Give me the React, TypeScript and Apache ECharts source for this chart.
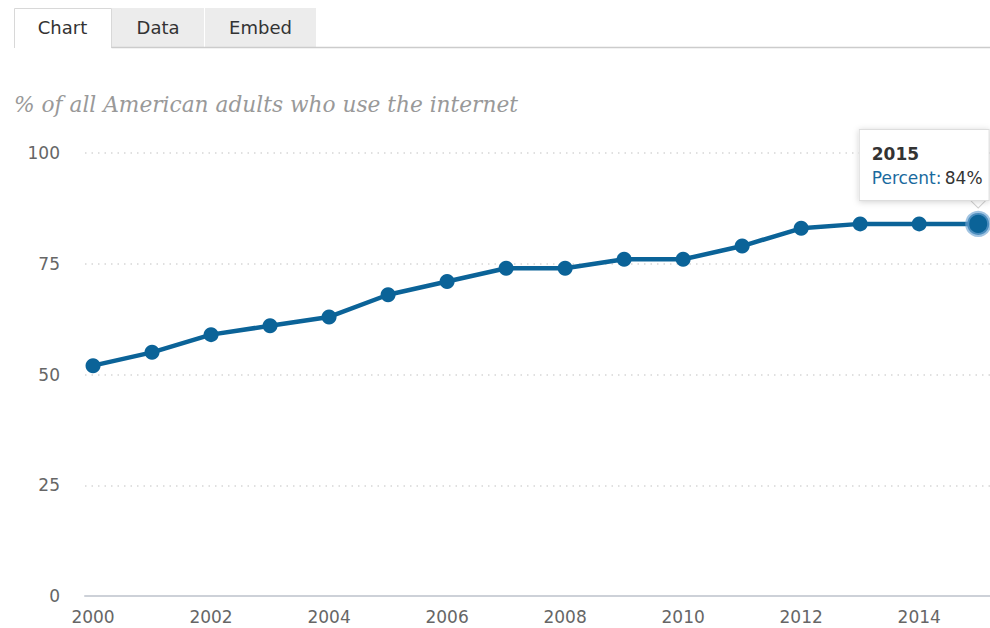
import React, { useEffect, useRef } from "react";
import * as echarts from "echarts";

const years = [2000, 2001, 2002, 2003, 2004, 2005, 2006, 2007, 2008, 2009, 2010, 2011, 2012, 2013, 2014, 2015];
const percent = [52, 55, 59, 61, 63, 68, 71, 74, 74, 76, 76, 79, 83, 84, 84, 84];
const xTickLabels = [2000, 2002, 2004, 2006, 2008, 2010, 2012, 2014];
const tabs = ["Chart", "Data", "Embed"];
const subtitle = "% of all American adults who use the internet";
const highlightIndex = 15;

const BLUE = "#0b6398";
const SANS = "DejaVu Sans";

export default function App() {
  const ref = useRef<HTMLDivElement>(null);
  useEffect(() => {
    if (!ref.current) return;
    const chart = echarts.init(ref.current, undefined, { renderer: "svg" });
    const tabBoxes = [
      { x: 14, w: 97 },
      { x: 112, w: 92 },
      { x: 205, w: 111 },
    ];
    const graphic: any[] = [];
    tabBoxes.forEach((b, i) => {
      graphic.push({
        type: "rect",
        shape: { x: b.x, y: 8, width: b.w, height: i === 0 ? 40 : 39 },
        style: { fill: i === 0 ? "#ffffff" : "#ececec" },
        silent: true,
      });
      graphic.push({
        type: "text",
        x: b.x + b.w / 2,
        y: 27,
        style: {
          text: tabs[i],
          fill: "#333333",
          font: `18px '${SANS}'`,
          align: "center",
          verticalAlign: "middle",
        },
        silent: true,
      });
    });
    graphic.push({
      type: "polyline",
      shape: { points: [[14.5, 48], [14.5, 8.5], [111.5, 8.5], [111.5, 48]] },
      style: { stroke: "#d8d8d8", lineWidth: 1, fill: null },
      silent: true,
    });
    graphic.push({
      type: "line",
      shape: { x1: 111.5, y1: 47.5, x2: 990, y2: 47.5 },
      style: { stroke: "#cccccc", lineWidth: 1.5 },
      silent: true,
    });
    graphic.push({
      type: "text",
      x: 14,
      y: 104,
      style: {
        text: subtitle,
        fill: "#999999",
        font: "italic 21.7px 'DejaVu Serif'",
        verticalAlign: "middle",
      },
      silent: true,
    });

    chart.setOption({
      animation: false,
      grid: { left: 85, right: 0, top: 153, bottom: 32 },
      graphic,
      xAxis: {
        type: "value",
        min: 1999.864,
        max: 2015.2,
        axisLine: { show: true, lineStyle: { color: "#cdd1d8", width: 2 } },
        axisTick: { show: false },
        splitLine: { show: false },
        axisLabel: {
          customValues: xTickLabels,
          formatter: (v: number) => String(v),
          color: "#666666",
          fontFamily: SANS,
          fontSize: 17,
          margin: 12,
        },
      },
      yAxis: {
        type: "value",
        min: 0,
        max: 100,
        interval: 25,
        axisLine: { show: false },
        axisTick: { show: false },
        splitLine: { lineStyle: { color: "#d6d6d6", type: [1.5, 5], width: 1.5 } },
        axisLabel: { color: "#666666", fontFamily: SANS, fontSize: 17, margin: 25 },
      },
      series: [
        {
          type: "line",
          data: years.map((y, i) =>
            i === highlightIndex
              ? {
                  value: [y, percent[i]],
                  symbolSize: 22,
                  itemStyle: { color: BLUE, borderColor: "rgba(110,165,210,0.65)", borderWidth: 4 },
                }
              : [y, percent[i]]
          ),
          symbol: "circle",
          symbolSize: 15,
          lineStyle: { color: BLUE, width: 4.5 },
          itemStyle: { color: BLUE },
          z: 3,
          markPoint: {
            silent: true,
            animation: false,
            data: [
              {
                coord: [years[highlightIndex], percent[highlightIndex]],
                symbol: "rect",
                symbolSize: 10,
                symbolRotate: 45,
                symbolOffset: [0, -23],
                itemStyle: { color: "#ffffff", borderColor: "#d0d0d0", borderWidth: 1 },
                label: {
                  show: true,
                  position: "top",
                  distance: 0,
                  offset: [-54, 7],
                  backgroundColor: "#ffffff",
                  borderColor: "#dddddd",
                  borderWidth: 1,
                  shadowColor: "rgba(0,0,0,0.18)",
                  shadowBlur: 6,
                  shadowOffsetY: 1,
                  padding: [12, 6, 10, 12],
                  formatter: () =>
                    `{t|${years[highlightIndex]}}\n{k|Percent:} {v|${percent[highlightIndex]}%}`,
                  rich: {
                    t: { fontFamily: SANS, fontSize: 17, fontWeight: "bold", color: "#333333", lineHeight: 24, align: "left" },
                    k: { fontFamily: SANS, fontSize: 17, color: "#1a6a9e", lineHeight: 24 },
                    v: { fontFamily: SANS, fontSize: 17, color: "#333333", lineHeight: 24 },
                  },
                },
              },
            ],
          },
        },
      ],
    });
    return () => chart.dispose();
  }, []);
  return (
    <div
      ref={ref}
      style={{ position: "fixed", left: 0, top: 0, width: 990, height: 628, background: "#ffffff" }}
    />
  );
}
